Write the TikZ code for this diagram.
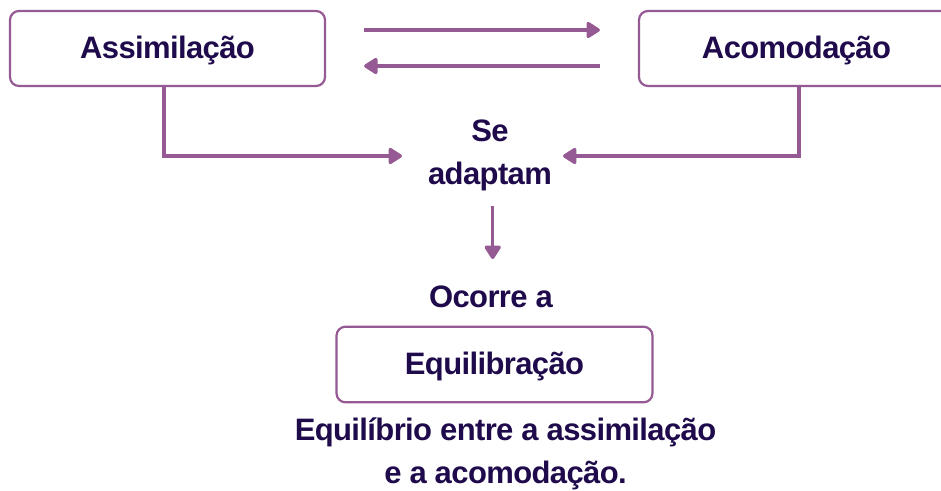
\documentclass[tikz,border=0pt]{standalone}
\usepackage{fontspec}
\setmainfont{Liberation Sans}[LetterSpace=-2]
\usetikzlibrary{arrows.meta,calc}
\definecolor{lineC}{HTML}{955A93}
\definecolor{textC}{HTML}{1F0B4C}
\tikzset{
  box/.style={draw=lineC, line width=2.2pt, rounded corners=9pt, minimum height=75pt, inner sep=0pt, fill=white},
  lbl/.style={text=textC, font=\fontsize{31}{43}\selectfont\bfseries, inner sep=0pt, align=center},
  arr/.style={draw=lineC, line width=3.4pt, -{Triangle[length=15pt,width=18pt,round]}},
}
\begin{document}
\begin{tikzpicture}[x=1pt,y=-1pt]
\clip (0,0) rectangle (941,490);
\fill[white] (0,0) rectangle (941,490);
\node[box, minimum width=315pt] (assim) at (167.5,48.5) {};
\node[lbl] (assimT) at (167.5,50) {Assimilação};
\node[box, minimum width=316pt] (acom) at (797,48.5) {};
\node[lbl] (acomT) at (796.5,50) {Acomodação};
\node[box, minimum width=316pt, minimum height=75.6pt] (equi) at (494.5,364.5) {};
\node[lbl] (equiT) at (494.5,366) {Equilibração};
\node[lbl] (adapt) at (490,155) {Se\\adaptam};
\node[lbl] (ocorre) at (491,296.5) {Ocorre a};
\node[lbl] (desc) at (505.5,454) {Equilíbrio entre a assimilação\\e a acomodação.};
\coordinate (inL) at (402,156);
\coordinate (inR) at (563,156);
\coordinate (dTop) at (492.7,206);
\coordinate (dBot) at (492.7,259);
\draw[arr] ($(assim.east)+(38,-18.5)$) -- ($(acom.west)+(-38,-18.5)$);
\draw[arr] ($(acom.west)+(-38,17.5)$) -- ($(assim.east)+(38,17.5)$);
\draw[arr] ([xshift=-3.5pt]assim.south) |- (inL);
\draw[arr] ([xshift=2pt]acom.south) |- (inR);
\draw[arr] (dTop) -- (dBot);
\end{tikzpicture}
\end{document}
